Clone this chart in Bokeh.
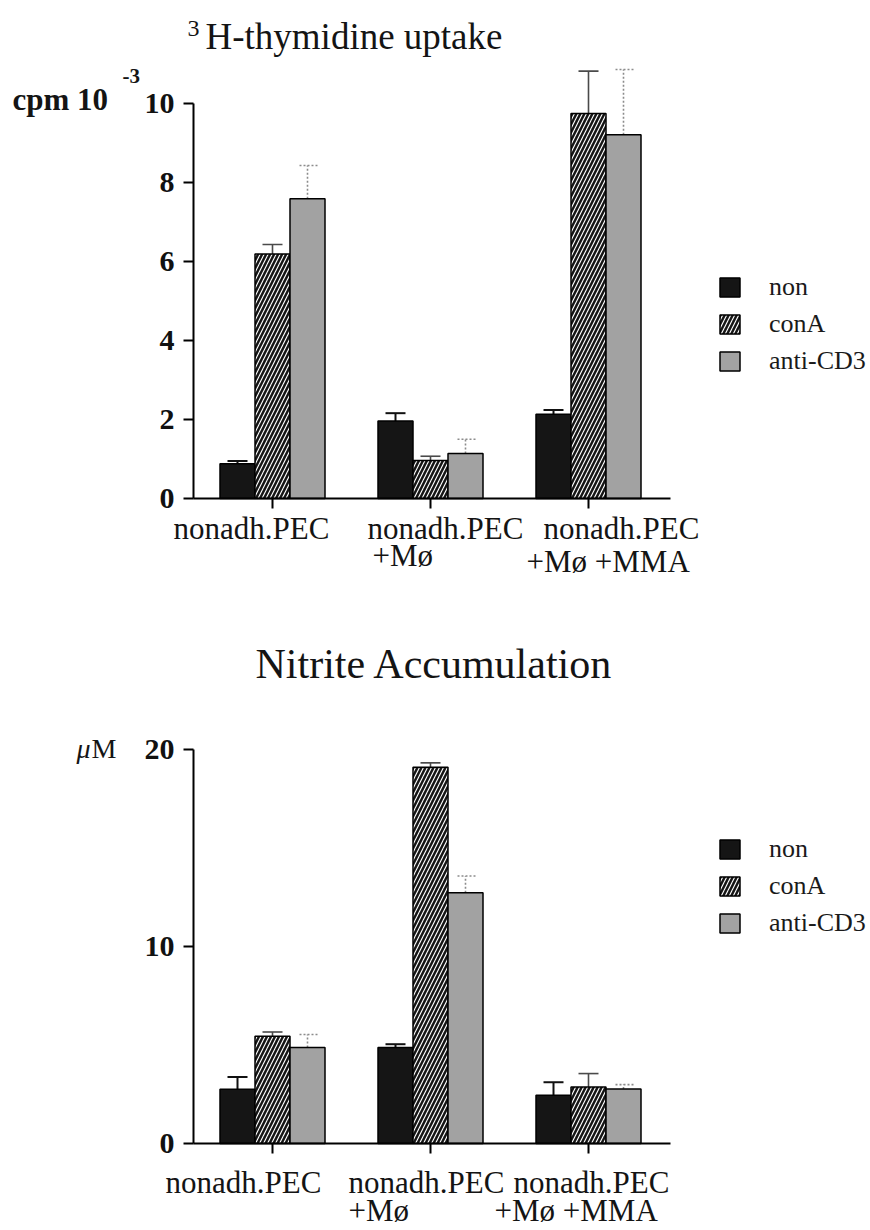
from bokeh.plotting import figure
from bokeh.models import (ColumnDataSource, Range1d, FixedTicker, Whisker, TeeHead,
                          Label, Legend, LegendItem)
from bokeh.layouts import column
from bokeh.embed import file_html
from bokeh.resources import INLINE

# ---------------- data ----------------
group_line1 = ["nonadh.PEC", "nonadh.PEC", "nonadh.PEC"]
group_line2 = ["", "+Mø", "+Mø  +MMA"]
series_names = ["non", "conA", "anti-CD3"]

# 3H-thymidine uptake (cpm x 10^-3)
thy_non = [0.88, 1.96, 2.13]
thy_non_err = [0.07, 0.20, 0.11]
thy_cona = [6.19, 0.96, 9.75]
thy_cona_err = [0.24, 0.11, 1.07]
thy_cd3 = [7.59, 1.14, 9.21]
thy_cd3_err = [0.84, 0.36, 1.65]
thy_ticks = [0, 2, 4, 6, 8, 10]

# Nitrite accumulation (uM)
nit_non = [2.76, 4.87, 2.45]
nit_non_err = [0.62, 0.17, 0.66]
nit_cona = [5.44, 19.1, 2.87]
nit_cona_err = [0.22, 0.22, 0.68]
nit_cd3 = [4.87, 12.73, 2.77]
nit_cd3_err = [0.66, 0.85, 0.22]
nit_ticks = [0, 10, 20]

# ---------------- style / layout ----------------
SERIF = "Liberation Serif"
PAGE_W = 870
GROUP_PX = 158.0          # pixels between group ticks
FIRST_TICK_PX = 272.0     # canvas x of the first group tick
BAR_PX = 35.0
W = BAR_PX / GROUP_PX
X0 = -0.5                 # y axis position (in group units)
X_AXIS_END = 2.52

bar_styles = [
    dict(fill_color="#151515"),
    dict(fill_color="#151515", hatch_pattern="/", hatch_color="white",
         hatch_weight=1.15, hatch_scale=8),
    dict(fill_color="#a2a2a2"),
]
err_styles = [
    dict(line_color="#111111", line_width=2, line_dash="solid"),
    dict(line_color="#4a4a4a", line_width=1.6, line_dash="solid"),
    dict(line_color="#8c8c8c", line_width=1.6, line_dash="2 2"),
]


def txt(x, y, text, dx, dy, size, style="normal", align="left"):
    return Label(x=x, y=y, text=text, x_offset=dx, y_offset=dy, text_align=align,
                 text_baseline="middle", text_font=SERIF, text_font_style=style,
                 text_font_size=size, text_color="#141414")


def make_panel(height, zero_px, px_per_unit, ymax_axis, ticks,
               values, errors, legend_pos, legend_spacing, l1_off, l2_off):
    x_start = -FIRST_TICK_PX / GROUP_PX
    x_end = (PAGE_W - FIRST_TICK_PX) / GROUP_PX
    y_start = -(height - zero_px) / px_per_unit
    y_end = zero_px / px_per_unit
    p = figure(width=PAGE_W, height=height, output_backend="svg",
               toolbar_location=None,
               x_range=Range1d(x_start, x_end), y_range=Range1d(y_start, y_end),
               min_border=0)
    p.outline_line_color = None
    p.xgrid.visible = False
    p.ygrid.visible = False
    p.background_fill_color = "white"
    p.border_fill_color = "white"

    n = len(group_line1)
    renderers = []
    for k in range(3):
        xs = [i + (k - 1) * W for i in range(n)]
        tops = values[k]
        src = ColumnDataSource(dict(x=xs, top=tops,
                                    upper=[t + e for t, e in zip(tops, errors[k])]))
        es = err_styles[k]
        wh = Whisker(base="x", lower="top", upper="upper", source=src,
                     line_color=es["line_color"], line_width=es["line_width"],
                     line_dash=es["line_dash"], lower_head=None,
                     upper_head=TeeHead(size=20, line_color=es["line_color"],
                                        line_width=es["line_width"],
                                        line_dash=es["line_dash"]))
        wh.level = "underlay"
        p.add_layout(wh)
        r = p.vbar(x="x", top="top", bottom=0, width=W, source=src,
                   line_color="black", line_width=1.5, **bar_styles[k])
        renderers.append(r)

    # axes placed at fixed data locations
    p.yaxis.fixed_location = X0
    p.yaxis.ticker = FixedTicker(ticks=ticks)
    p.yaxis.bounds = (0, ymax_axis)
    p.yaxis.axis_line_width = 2
    p.yaxis.major_tick_line_width = 2
    p.yaxis.major_tick_out = 10
    p.yaxis.major_tick_in = 0
    p.yaxis.minor_tick_line_color = None
    p.yaxis.major_label_standoff = 9
    p.yaxis.major_label_text_font = SERIF
    p.yaxis.major_label_text_font_style = "bold"
    p.yaxis.major_label_text_font_size = "30px"
    p.yaxis.major_label_text_color = "#111111"

    p.xaxis.fixed_location = 0
    p.xaxis.ticker = FixedTicker(ticks=list(range(n)))
    p.xaxis.major_label_overrides = {i: "" for i in range(n)}
    p.xaxis.bounds = (X0, X_AXIS_END)
    p.xaxis.axis_line_width = 2
    p.xaxis.major_tick_line_width = 2
    p.xaxis.major_tick_out = 10
    p.xaxis.major_tick_in = 0
    p.xaxis.minor_tick_line_color = None

    # category labels
    for i in range(n):
        p.add_layout(txt(i, 0, group_line1[i], l1_off[i][0], l1_off[i][1], "31px"))
        if group_line2[i]:
            p.add_layout(txt(i, 0, group_line2[i], l2_off[i][0], l2_off[i][1], "31px"))

    legend = Legend(items=[LegendItem(label=s, renderers=[r])
                           for s, r in zip(series_names, renderers)],
                    location=legend_pos, orientation="vertical",
                    glyph_width=25, glyph_height=24, label_height=24,
                    spacing=legend_spacing, padding=0, margin=0,
                    label_standoff=27, label_text_font=SERIF,
                    label_text_font_size="26px", label_text_color="#1a1a1a",
                    border_line_alpha=0, background_fill_alpha=0)
    p.add_layout(legend)
    return p


p1 = make_panel(608, 498, 39.5, 10, thy_ticks,
                [thy_non, thy_cona, thy_cd3],
                [thy_non_err, thy_cona_err, thy_cd3_err],
                (717, 232), 7,
                [(-99, -30), (-63, -30), (-45, -30)],
                [(0, 0), (-58, -57), (-62, -63)])
p1.add_layout(txt(X0, 10, "3", -6, 75, "24px"))
p1.add_layout(txt(X0, 10, "H-thymidine uptake", 12, 67, "37px"))
p1.add_layout(txt(X0, 10, "cpm 10", -181, 4, "31px", "bold"))
p1.add_layout(txt(X0, 10, "-3", -71, 28, "21px", "bold"))

p2 = make_panel(622, 535, 19.7, 20, nit_ticks,
                [nit_non, nit_cona, nit_cd3],
                [nit_non_err, nit_cona_err, nit_cd3_err],
                (717, 292), 7,
                [(-107, -39), (-82, -39), (-75, -39)],
                [(0, 0), (-82, -67), (-94, -67)])
p2.add_layout(txt(X0, 20, "Nitrite Accumulation", 62, 86, "42px"))
p2.add_layout(txt(X0, 20, "μ", -117, 1, "28px", "italic"))
p2.add_layout(txt(X0, 20, "M", -102, 1, "28px"))

layout = column(p1, p2)
open("out.html", "w").write(file_html(layout, INLINE))
